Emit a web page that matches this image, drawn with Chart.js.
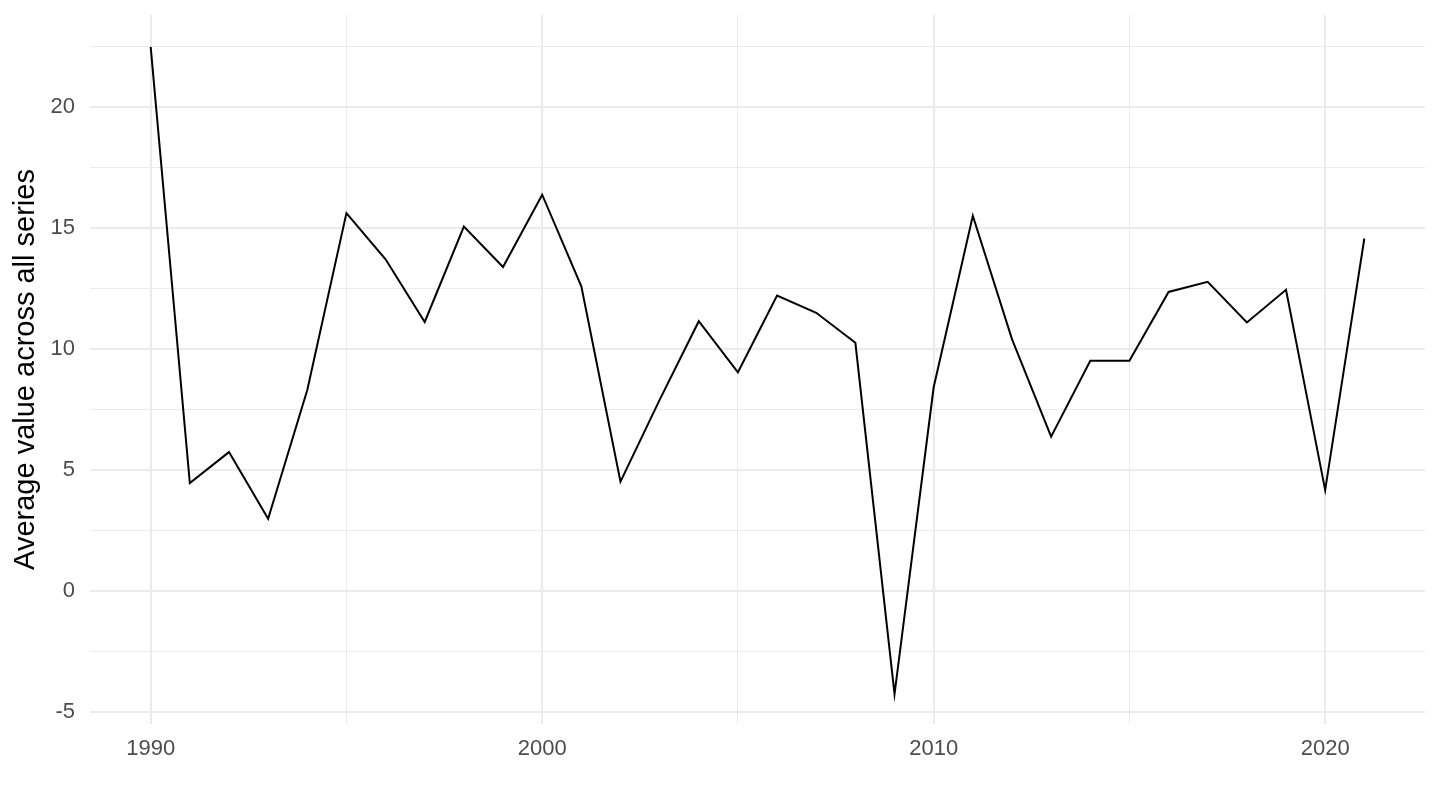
<!DOCTYPE html>
<html>
<head>
<meta charset="utf-8">
<script src="https://cdn.jsdelivr.net/npm/chart.js@4"></script>
<style>
  html, body { margin: 0; padding: 0; background: #fff; }
  #wrap { width: 1440px; height: 810px; position: relative; }
</style>
</head>
<body>
<div id="wrap"><canvas id="chart"></canvas></div>
<script>
// Años y promedio anual.
const YEARS = [1990, 1991, 1992, 1993, 1994, 1995, 1996, 1997, 1998, 1999,
               2000, 2001, 2002, 2003, 2004, 2005, 2006, 2007, 2008, 2009,
               2010, 2011, 2012, 2013, 2014, 2015, 2016, 2017, 2018, 2019,
               2020, 2021];
const AVG_VALUES = [22.49, 4.46, 5.74, 2.98, 8.31, 15.62, 13.71, 11.12, 15.06, 13.39,
                    16.38, 12.59, 4.52, 7.9, 11.15, 9.04, 12.21, 11.5, 10.26, -4.26,
                    8.42, 15.51, 10.41, 6.38, 9.52, 9.52, 12.36, 12.78, 11.1, 12.45,
                    4.17, 14.57];
const X_LABEL_EVERY = 10;
const Y_LABEL_EVERY = 5;

const GRID = '#ebebeb';
const TICK_TEXT = '#4d4d4d';
const FONT = '"Liberation Sans", Arial, sans-serif';

// ggplot: mayor = etiquetada (línea gruesa), menor = intermedia (línea fina)
function isMajor(v, every) {
  return Math.abs(v / every - Math.round(v / every)) < 1e-6;
}

new Chart(document.getElementById('chart'), {
  type: 'line',
  data: {
    datasets: [{
      data: YEARS.map((y, i) => ({ x: y, y: AVG_VALUES[i] })),
      borderColor: '#000',
      borderWidth: 2,
      pointRadius: 0,
      tension: 0,
      fill: false
    }]
  },
  options: {
    responsive: true,
    maintainAspectRatio: false,
    animation: false,
    layout: { padding: { top: 15, right: 15, left: 0, bottom: 0 } },
    plugins: { legend: { display: false }, tooltip: { enabled: false } },
    scales: {
      x: {
        type: 'linear',
        min: 1988.45,
        max: 2022.55,
        border: { display: false },
        grid: {
          drawTicks: false,
          color: GRID,
          lineWidth: ctx => isMajor(ctx.tick.value, X_LABEL_EVERY) ? 2 : 1
        },
        ticks: {
          stepSize: 5,
          includeBounds: false,
          padding: 12,
          color: TICK_TEXT,
          font: { family: FONT, size: 22 },
          maxRotation: 0,
          callback: v => isMajor(v, X_LABEL_EVERY) ? String(v) : ''
        },
        afterFit: axis => {
          axis.height = 86;
          axis.paddingLeft = 0;
          axis.paddingRight = 0;
        }
      },
      y: {
        min: -5.5,
        max: 23.81,
        border: { display: false },
        grid: {
          drawTicks: false,
          color: GRID,
          lineWidth: ctx => isMajor(ctx.tick.value, Y_LABEL_EVERY) ? 2 : 1
        },
        ticks: {
          stepSize: 2.5,
          includeBounds: false,
          padding: 15,
          color: TICK_TEXT,
          font: { family: FONT, size: 22 },
          callback: v => isMajor(v, Y_LABEL_EVERY) ? String(v) : ''
        },
        title: {
          display: true,
          text: 'Average value across all series',
          color: '#000',
          font: { family: FONT, size: 29 },
          padding: { top: 9, bottom: 0 }
        },
        afterFit: axis => {
          axis.width = 90;
          axis.paddingTop = 0;
          axis.paddingBottom = 0;
        }
      }
    }
  }
});
</script>
</body>
</html>
